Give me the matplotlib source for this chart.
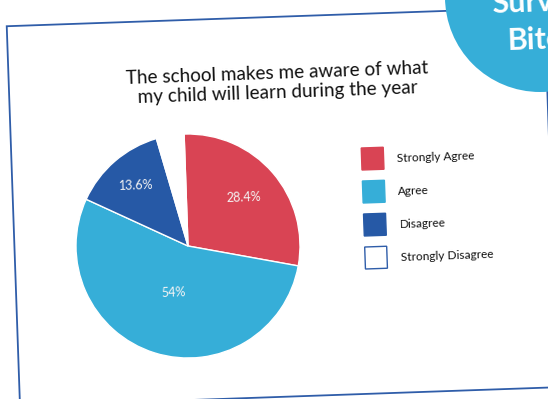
import numpy as np
import matplotlib.pyplot as plt
from matplotlib.patches import Rectangle, Circle

# Ответы родителей (в процентах)
categories = ['Strongly Agree', 'Agree', 'Disagree', 'Strongly Disagree']
shares = [28.4, 54.0, 13.6, 4.0]
colors = ['#D94454', '#36AED8', '#2659A6', '#FFFFFF']
title = 'The school makes me aware of what\nmy child will learn during the year'

W, H = 548, 399
tilt = 2.0          # слайд слегка повернут
frame_col = '#2F5DA9'
font = ['Lato', 'DejaVu Sans']


def py(y):
    # координаты снизу вверх, как в пикселях картинки сверху вниз
    return H - y


fig = plt.figure(figsize=(W / 100, H / 100), dpi=100)
ax = fig.add_axes([0, 0, 1, 1])

# Рамка слайда
ax.add_patch(Rectangle((20, py(406)), 538, 380, angle=tilt, fill=False,
                       edgecolor=frame_col, linewidth=1.3, zorder=1))

# Заголовок
ax.text(277, py(83), title, fontsize=13.6, family=font, color='#111111',
        ha='center', va='center', rotation=tilt, rotation_mode='anchor',
        multialignment='center', linespacing=1.2, zorder=3)

# Круговая диаграмма
center = (188, py(246))
radius = 112
wedges, _ = ax.pie(shares, colors=colors, startangle=90 + tilt, counterclock=False,
                   center=center, radius=radius,
                   wedgeprops=dict(edgecolor='white', linewidth=1))
for w in wedges:
    w.set_zorder(2)

# Подписи долей
label_dist = [0.66, 0.44, 0.71, None]
for w, v, d in zip(wedges, shares, label_dist):
    if d is None:
        continue
    mid = np.deg2rad((w.theta1 + w.theta2) / 2)
    ax.text(center[0] + d * radius * np.cos(mid), center[1] + d * radius * np.sin(mid),
            f'{v:g}%', fontsize=9, family=font, color='#F4F4F4',
            ha='center', va='center', rotation=tilt, zorder=3)

# Легенда
for i, (cat, col) in enumerate(zip(categories, colors)):
    x0, y0 = 362 + 1.15 * i, 170 + 33 * i
    edge = frame_col if col == '#FFFFFF' else col
    ax.add_patch(Rectangle((x0, py(y0)), 22, 22, angle=tilt, facecolor=col,
                           edgecolor=edge, linewidth=1, zorder=2))
    ax.text(x0 + 35, py(y0 - 11), cat, fontsize=8.6, family=font, color='#111111',
            ha='left', va='center', rotation=tilt, rotation_mode='anchor', zorder=3)

# Значок в углу
ax.add_patch(Circle((540, py(-3)), 95, facecolor='#36AED8', edgecolor='none', zorder=4))
ax.text(492, py(13), 'Survey', fontsize=22, family=font, weight='bold', color='white',
        ha='left', va='baseline', rotation=tilt, rotation_mode='anchor', zorder=5)
ax.text(507, py(50), 'Bites', fontsize=22, family=font, weight='bold', color='white',
        ha='left', va='baseline', rotation=tilt, rotation_mode='anchor', zorder=5)

ax.set_xlim(0, W)
ax.set_ylim(0, H)
ax.set_aspect('equal')
ax.axis('off')

plt.savefig('out.png', dpi=100)
